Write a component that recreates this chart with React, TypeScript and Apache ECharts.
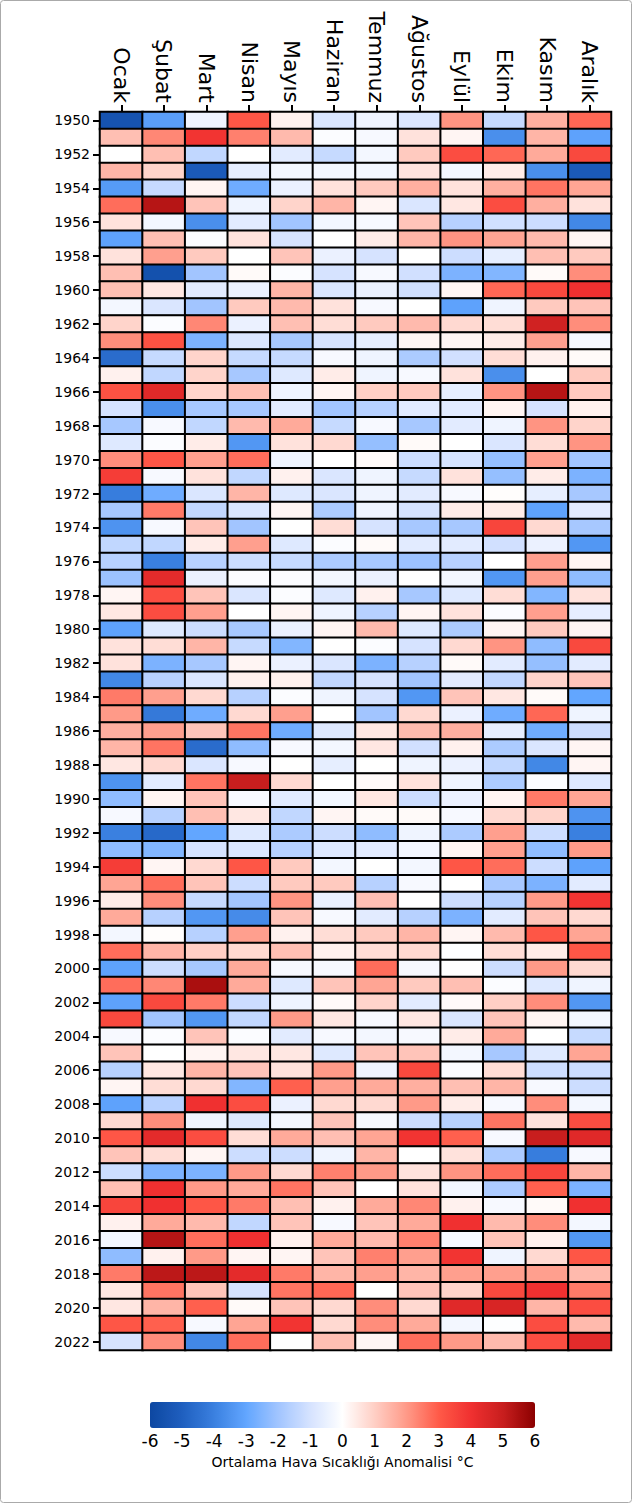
import React, { useEffect, useRef } from "react";
import * as echarts from "echarts";

const months = ["Ocak", "Şubat", "Mart", "Nisan", "Mayıs", "Haziran", "Temmuz", "Ağustos", "Eylül", "Ekim", "Kasım", "Aralık"];
const firstYear = 1950;

const anom1950s = [
  [-5.5, -3.2, -0.4, 3.1, 0.3, -0.9, -0.4, -0.9, 2.1, -1.3, 1.6, 2.8],
  [1.3, 2.3, 3.9, 2.4, 1.4, -0.1, -0.2, 0.6, 0.2, -3.6, 1.5, -3.1],
  [0, 1.3, -1.4, 0, -0.7, -1.3, -0.3, 1.1, 3.3, 2.8, 1.7, 3.4],
  [1.5, 0.9, -5.2, -0.6, -0.3, -0.3, -0.3, 0.6, -0.3, 0.4, -3.6, -5.2],
  [-3.3, -1.3, 0.2, -2.8, -0.5, 0.6, 1.1, 1.6, 0.6, 1.6, 2.6, 1.8],
  [2.7, 5.3, 1.2, -0.4, 0.9, 1.5, 0.2, -0.9, 0.5, 3.3, 1.6, 0.6],
  [0.6, -0.3, -3.6, -0.7, -2.0, -0.3, -0.2, 1.2, -1.6, -1.1, -1.2, -3.8],
  [-3.1, 1.3, -0.1, 0.6, -1.0, 0, 0.4, 1.5, 2.1, 1.8, 1.4, 0.2],
  [0.6, 1.9, 1.1, 0, 1.2, -0.5, -1.0, 0, -1.2, -0.6, 1.3, 1.1],
  [1.3, -5.6, -2.0, 0.1, -0.1, -1.0, -0.2, -1.1, -2.6, -2.5, 0.1, 2.2],
];
const anom1960s = [
  [1.3, 0.5, -0.7, -0.5, 1.5, -0.9, -0.5, -1.1, 0.2, 2.8, 3.4, 4.0],
  [-0.3, -0.9, -2.0, 1.1, 1.4, 0.6, -0.2, 0, -3.1, -0.4, 1.1, 1.2],
  [0.9, -0.1, 2.3, -0.5, 1.3, 0.7, 1.1, 1.4, 0.8, 0.7, 4.8, 2.2],
  [2.2, 3.2, -2.6, -0.9, -1.9, -1.0, -0.6, 0.2, 0.2, 0.4, 1.9, -0.2],
  [-4.6, -1.3, 0.9, -1.3, -1.3, -0.2, -0.4, -1.8, -1.1, 0.7, 0.3, 0.1],
  [0.3, -1.4, 0.9, -1.9, -0.8, 0.4, -0.4, -0.2, 0.6, -3.6, 0, 1.1],
  [3.2, 4.4, 0.9, 1.3, -0.4, 0.2, 1.0, 1.1, -0.6, 2.1, 5.3, 1.1],
  [-1.0, -3.6, -1.9, -1.9, -0.7, -2.0, -1.6, -0.7, -0.7, 0.2, -1.0, 0.3],
  [-1.9, -0.2, -1.4, 1.4, 1.7, -1.3, -0.2, -1.9, -0.7, -0.4, 2.1, 0.9],
  [-0.8, -0.1, 0.4, -3.4, 0.6, 0.8, -2.2, 0.1, 0, -0.9, 0.7, 2.1],
];
const anom1970s = [
  [2.2, 3.1, 1.9, 2.7, -0.4, 0, 0.1, -1.2, -1.0, -2.2, 1.9, -2.0],
  [3.7, -0.2, 0.6, -1.4, 0.3, -0.9, -0.4, -1.3, 0.6, -2.2, 0.4, -2.6],
  [-4.1, -2.8, -0.9, 1.5, -0.8, -0.9, -0.4, -0.7, -0.2, 0.05, -0.6, -1.9],
  [-1.9, 2.5, -1.4, -0.9, 0.2, -1.8, -0.4, -1.0, 0.4, 0.4, -3.1, -0.7],
  [-3.5, -0.2, 1.2, -2.0, 0, 0.7, -1.0, -1.9, -1.9, 3.5, 0.8, -1.9],
  [-1.4, -1.4, 0.4, 1.9, -0.8, -0.1, 0.1, -0.7, -0.7, -1.1, -0.5, -3.4],
  [-1.6, -4.0, -1.6, -1.2, -1.3, -1.8, -1.9, -2.1, -1.6, 0, 1.9, 0.2],
  [-2.1, 4.3, -0.5, -0.1, -0.1, -0.3, -0.5, 0, -0.3, -3.4, 1.9, -2.3],
  [0.2, 3.3, 1.2, -0.9, -0.1, -0.8, 0.3, -1.9, -0.8, 0.7, -2.5, 0.6],
  [0.5, 3.3, 1.9, 0, 0.2, -0.4, -1.6, 0.2, 0.6, -0.1, 1.9, -0.6],
];
const anom1980s = [
  [-3.1, -0.8, -1.2, -1.9, -0.5, 0.2, 1.4, -0.8, -1.8, 0.2, 1.1, 0.2],
  [0.6, 0.7, 1.5, -1.3, -2.5, 0, -0.1, -1.0, 0.8, 2.1, -2.3, 3.4],
  [0.6, -2.6, -1.9, 0.2, -0.5, -0.9, -2.6, -1.6, 0.1, -0.7, -2.2, -0.7],
  [-3.8, -1.6, -0.9, 0.3, 0.3, -1.4, -1.0, -2.0, -0.7, -1.4, 0.9, 1.2],
  [2.5, 1.9, 0.8, -1.6, -0.1, -0.4, -1.0, -3.4, 1.2, 0.5, 0.1, -3.0],
  [2.0, -4.2, -2.8, 0.8, 1.9, 0, -2.0, 0.8, -0.5, -2.8, 2.8, -0.4],
  [1.6, 1.9, 1.2, 2.6, -2.8, -0.8, 0.5, 1.4, 1.6, -0.6, -2.8, -1.2],
  [1.5, 2.6, -4.6, -2.3, -0.2, -0.3, 0.5, -1.1, 0.3, -1.8, -0.9, 0.2],
  [0.5, 0.8, -0.9, -0.2, 0, -0.6, 0, -0.4, -0.5, -1.4, -3.8, 0.2],
  [-3.5, -0.7, 2.6, 5.0, 0.8, 0, 0.1, 0.6, -0.4, -1.8, -0.1, -0.8],
];
const anom1990s = [
  [-2.3, 0.2, 1.2, -0.2, -0.7, -0.3, 0.5, -1.2, -0.5, 0.2, 2.5, 1.8],
  [-0.2, -1.6, 1.3, 0.5, -1.4, 0.2, 0.1, 0.1, -0.2, 0.8, 0.9, -3.5],
  [-4.0, -4.7, -3.0, -0.8, -1.8, -1.2, -2.3, -0.4, -1.8, 1.9, -1.2, -4.0],
  [-2.3, -2.5, -1.0, -0.9, -1.6, -0.8, -0.7, -0.3, 0.2, 1.9, -2.3, 2.0],
  [3.7, 0.2, 0.8, 3.1, 1.1, -0.3, 0, -0.3, 3.1, 2.7, -1.2, -3.1],
  [1.8, 2.7, 1.2, -1.2, 1.1, 1.1, -1.6, -0.2, 0, -1.9, -2.6, -0.7],
  [0.4, 2.2, -1.3, -2.0, 2.1, -0.5, 1.3, 0, -1.2, -1.6, 2.0, 3.9],
  [1.7, -1.6, -3.4, -3.7, 1.2, -0.2, -0.7, -1.6, -2.6, -0.7, 1.2, 0.8],
  [-0.3, 0.05, -1.6, 1.9, 0.3, 0.7, 1.1, 1.5, 0.2, 1.4, 3.1, 1.8],
  [2.7, 1.5, 1.0, 0.8, 1.3, 0.3, 0.7, 0.8, -0.05, 0.7, 0.4, 3.1],
];
const anom2000s = [
  [-3.1, -1.2, -1.9, 1.7, -0.2, -0.2, 2.7, -0.2, 0, -1.2, 2.0, 0.8],
  [2.7, 2.3, 5.5, 1.7, -0.8, 1.2, 1.8, 1.1, 1.3, -0.1, -0.8, -0.4],
  [-3.1, 3.4, 2.5, -1.2, -0.4, 0.1, 0.9, -0.7, 0.1, 1.0, 2.2, -3.4],
  [3.4, -2.0, -3.4, -1.4, 2.0, 0.5, -0.2, 0.5, -0.9, 1.2, 0.2, -0.3],
  [-0.2, -0.1, 1.2, -0.1, -0.7, -0.2, -0.3, -0.2, 0.4, 1.7, 0, -1.3],
  [1.2, 0, 0.2, 0.5, 0.5, -0.8, 1.2, 1.2, -0.3, -1.9, -0.8, 1.8],
  [-1.6, 0.5, 1.5, 1.2, 0.6, 2.0, -0.4, 3.4, -0.1, 0.7, -1.2, -1.2],
  [0.2, 0.7, 0.8, -2.5, 2.9, 1.9, 1.7, 1.6, 1.3, 1.5, -0.2, -1.2],
  [-3.1, -1.6, 4.0, 3.3, -0.5, 0.8, 0.8, 2.0, 0.4, -0.2, 2.2, -0.3],
  [0.8, 2.2, -0.4, -0.8, -0.3, 1.2, -0.2, -1.2, -1.6, 2.6, 0.6, 3.3],
];
const anom2010s = [
  [3.1, 4.3, 3.3, 0.7, 1.7, 1.3, 1.8, 3.9, 2.9, -0.2, 5.0, 4.4],
  [1.2, 0.7, 0.2, -1.2, -1.2, -0.4, 1.5, 0, 0.6, -1.8, -4.1, -0.2],
  [-1.2, -2.6, -2.6, 2.0, 0.8, 2.4, 2.0, 0.6, 2.1, 2.7, 3.5, 1.5],
  [1.3, 4.0, 2.0, 1.7, 2.6, 1.2, 0, 0.6, -0.3, -1.8, 2.9, -2.6],
  [3.5, 4.0, 3.1, 2.5, 1.3, 0.3, 1.7, 2.3, 0.3, -0.2, 0.1, 4.0],
  [0.3, 1.7, 1.4, -1.4, 1.2, -0.2, 1.2, 1.7, 4.0, 1.4, 2.2, -0.3],
  [-0.3, 5.3, 2.7, 4.0, 0.3, 1.7, 1.4, 2.4, -0.2, 1.2, 0.3, -3.4],
  [-2.3, 0.3, 2.0, 0.2, 0.2, 1.2, 2.4, 1.9, 3.9, -0.4, 0.8, 3.1],
  [2.5, 5.2, 5.2, 4.3, 2.5, 1.5, 1.9, 1.5, 1.9, 1.9, 1.9, 1.4],
  [0.5, 2.6, 1.2, -1.0, 2.6, 2.8, 0, 1.2, 0.9, 3.4, 4.0, 2.5],
];
const anom2020s = [
  [0.5, 1.5, 2.9, 0.1, 1.2, 0.8, 2.2, 0.8, 4.4, 4.6, 1.5, 3.3],
  [3.1, 2.9, -0.2, 1.8, 3.9, 0.8, 2.2, 1.7, -0.3, -0.05, 3.3, 1.4],
  [-1.0, 2.2, -3.8, 2.7, 0, 1.3, 0.2, 2.7, 2.0, 1.4, 3.3, 4.3],
];

const colorStops = [
  "#0d47a1", "#1f5fbf", "#3a80e0", "#62a6ff", "#a2c5ff", "#d6e3ff", "#ffffff",
  "#ffcfc5", "#ff9a88", "#ff5a48", "#f03030", "#c81e1e", "#8b0000",
];

const allRows = [...anom1950s, ...anom1960s, ...anom1970s, ...anom1980s, ...anom1990s, ...anom2000s, ...anom2010s, ...anom2020s];
const years = allRows.map((_, i) => String(firstYear + i));
const cells: [number, number, number][] = [];
allRows.forEach((row, yi) => row.forEach((v, mi) => cells.push([mi, yi, v])));

const FONT = "DejaVu Sans";

export default function App() {
  const ref = useRef<HTMLDivElement>(null);
  useEffect(() => {
    const chart = echarts.init(ref.current!, null, { renderer: "svg" });
    chart.setOption({
      animation: false,
      textStyle: { fontFamily: FONT, color: "#000" },
      graphic: [
        {
          type: "rect",
          shape: { x: 0.5, y: 0.5, width: 631, height: 1502, r: 3 },
          style: { fill: "none", stroke: "#aaa", lineWidth: 1 },
          silent: true,
        },
      ],
      grid: [
        { left: 100, right: 21, top: 112, bottom: 153 },
        { left: 150, width: 385, top: 1402, height: 26 },
      ],
      xAxis: [
        {
          type: "category",
          data: months,
          position: "top",
          gridIndex: 0,
          axisLabel: { rotate: 90, fontSize: 22, color: "#000", fontFamily: FONT, margin: 9 },
          axisTick: { show: true, alignWithLabel: true, length: 7, lineStyle: { color: "#000", width: 2 } },
          axisLine: { show: true, lineStyle: { color: "#000", width: 2 } },
          splitLine: { show: false },
        },
        {
          type: "value",
          gridIndex: 1,
          min: -6,
          max: 6,
          interval: 1,
          name: "Ortalama Hava Sıcaklığı Anomalisi °C",
          nameLocation: "middle",
          nameGap: 27,
          nameTextStyle: { fontSize: 14, color: "#000", fontFamily: FONT },
          axisLabel: { fontSize: 17, color: "#000", fontFamily: FONT, margin: 4 },
          axisLine: { show: false },
          axisTick: { show: false },
          splitLine: { show: false },
        },
      ],
      yAxis: [
        {
          type: "category",
          data: years,
          inverse: true,
          gridIndex: 0,
          axisLabel: { interval: 1, fontSize: 14, color: "#000", fontFamily: FONT, margin: 10 },
          axisTick: { show: true, interval: 1, alignWithLabel: true, length: 7, lineStyle: { color: "#000", width: 2 } },
          axisLine: { show: true, lineStyle: { color: "#000", width: 2 } },
          splitLine: { show: false },
        },
        { type: "value", gridIndex: 1, show: false },
      ],
      visualMap: {
        type: "continuous",
        min: -6,
        max: 6,
        orient: "horizontal",
        left: 150,
        top: 1402,
        padding: 0,
        itemWidth: 26,
        itemHeight: 385,
        calculable: false,
        seriesIndex: 0,
        inRange: { color: colorStops },
      },
      series: [
        {
          type: "heatmap",
          xAxisIndex: 0,
          yAxisIndex: 0,
          data: cells,
          itemStyle: { borderColor: "#000", borderWidth: 2 },
          emphasis: { disabled: true },
        },
      ],
    });
    return () => chart.dispose();
  }, []);
  return <div ref={ref} style={{ position: "absolute", left: 0, top: 0, width: 632, height: 1503 }} />;
}
